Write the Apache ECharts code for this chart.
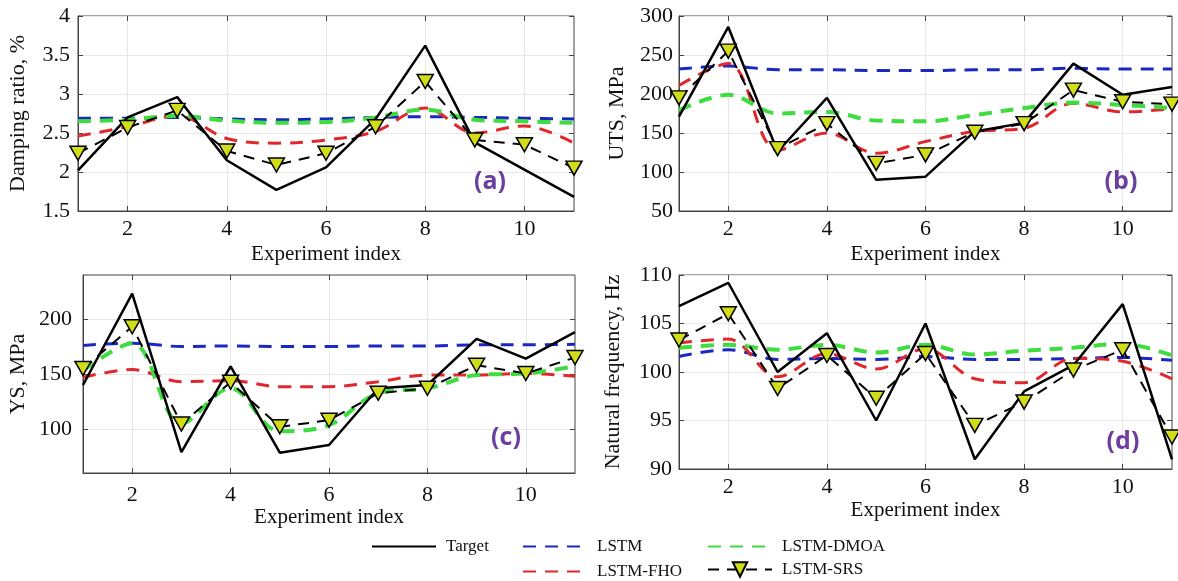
<!DOCTYPE html>
<html>
<head>
<meta charset="utf-8">
<script src="https://cdn.jsdelivr.net/npm/echarts@6/dist/echarts.min.js"></script>
<style>
  html, body { margin: 0; padding: 0; background: #fff; }
  #chart { width: 1178px; height: 581px; }
</style>
</head>
<body>
<div id="chart"></div>
<script>
  // experiment index 1..11
  const experiments = ['1', '2', '3', '4', '5', '6', '7', '8', '9', '10', '11']

  // (a) damping ratio, %
  const dampTarget = [2.02, 2.70, 2.96, 2.15, 1.77, 2.06, 2.68, 3.62, 2.38, 2.03, 1.68]
  const dampLstm = [2.69, 2.69, 2.70, 2.68, 2.67, 2.68, 2.70, 2.71, 2.70, 2.69, 2.68]
  const dampFho = [2.46, 2.58, 2.72, 2.43, 2.37, 2.41, 2.52, 2.82, 2.50, 2.59, 2.37]
  const dampDmoa = [2.65, 2.67, 2.72, 2.66, 2.63, 2.64, 2.70, 2.80, 2.67, 2.65, 2.63]
  const dampSrs = [2.24, 2.57, 2.79, 2.27, 2.09, 2.24, 2.58, 3.16, 2.41, 2.35, 2.05]

  // (b) UTS, MPa
  const utsTarget = [171, 286, 126, 195, 90, 94, 152, 163, 239, 199, 209]
  const utsLstm = [232, 236, 231, 231, 230, 230, 231, 231, 233, 232, 232]
  const utsFho = [211, 239, 128, 150, 124, 139, 152, 156, 188, 177, 181]
  const utsDmoa = [179, 199, 175, 177, 166, 165, 173, 182, 189, 186, 182]
  const utsSrs = [195, 255, 130, 162, 111, 122, 151, 162, 205, 190, 187]

  // (c) YS, MPa
  const ysTarget = [140, 223, 79, 157, 78.5, 85.5, 137, 140, 182, 164, 188]
  const ysLstm = [176, 178, 175, 175.5, 175, 175, 175.5, 175.5, 176.5, 176.5, 177]
  const ysFho = [147, 154, 143, 144, 138.5, 138.5, 143, 149, 149, 150.5, 148]
  const ysDmoa = [153, 178, 105, 137, 98, 103.5, 132.5, 137, 149, 150.5, 157]
  const ysSrs = [155, 193, 104.5, 142.5, 102, 108, 132.5, 137, 158, 150.5, 165]
  const ysTicks = [100, 150, 200]

  // (d) natural frequency, Hz
  const freqTarget = [106.8, 109.2, 100, 104, 95, 105, 91, 98, 100.7, 107, 91]
  const freqLstm = [101.6, 102.3, 101.3, 101.4, 101.3, 101.6, 101.3, 101.3, 101.4, 101.5, 101.2]
  const freqFho = [103.0, 103.4, 99.5, 101.9, 100.3, 102.4, 99.3, 98.9, 101.4, 101.1, 99.3]
  const freqDmoa = [102.5, 102.8, 102.3, 102.8, 102.0, 102.8, 101.8, 102.2, 102.5, 102.9, 101.7]
  const freqSrs = [103.3, 106.0, 98.3, 101.7, 97.3, 101.9, 94.5, 96.9, 100.2, 102.3, 93.3]

  const serif = '"Liberation Serif", "Times New Roman", serif'
  const dash = [13, 9]

  const styles = {
    'LSTM': { color: '#1a28c0', width: 3, type: dash, smooth: 0.35 },
    'LSTM-FHO': { color: '#e0282c', width: 3, type: dash, smooth: 0.35 },
    'LSTM-DMOA': { color: '#3fdc3f', width: 4, type: dash, smooth: 0.35 },
    'Target': { color: '#000', width: 2.5, type: 'solid', smooth: false },
    'LSTM-SRS': { color: '#000', width: 2, type: [11, 8], smooth: false },
  }

  const panels = [
    { target: dampTarget, lstm: dampLstm, fho: dampFho, dmoa: dampDmoa, srs: dampSrs },
    { target: utsTarget, lstm: utsLstm, fho: utsFho, dmoa: utsDmoa, srs: utsSrs },
    { target: ysTarget, lstm: ysLstm, fho: ysFho, dmoa: ysDmoa, srs: ysSrs },
    { target: freqTarget, lstm: freqLstm, fho: freqFho, dmoa: freqDmoa, srs: freqSrs },
  ]

  const grids = [
    { left: 78, top: 16, width: 496, height: 195 },
    { left: 679, top: 16, width: 493, height: 195 },
    { left: 83, top: 275, width: 492, height: 198 },
    { left: 679, top: 275, width: 493, height: 194 },
  ]

  const everyOther = (i) => i % 2 === 1
  const tickStyle = { inside: true, length: 5, lineStyle: { color: '#444' } }

  // bottom axes with labels
  const xAxes = grids.map((g, i) => ({
    type: 'category',
    gridIndex: i,
    data: experiments,
    boundaryGap: false,
    name: 'Experiment index',
    nameLocation: 'middle',
    nameGap: i < 2 ? 33 : 31,
    nameTextStyle: { fontFamily: serif, fontSize: 21, color: '#111' },
    axisLine: { lineStyle: { color: '#444', width: 1 } },
    axisTick: { ...tickStyle, interval: everyOther },
    axisLabel: { interval: everyOther, fontFamily: serif, fontSize: 22, color: '#111', margin: i === 2 ? 11 : 7 },
    splitLine: { show: true, interval: everyOther, lineStyle: { color: '#e8e8e8' } },
  }))
  // top axes: only the inward ticks of the box
  grids.forEach((g, i) => {
    xAxes.push({
      type: 'category',
      gridIndex: i,
      position: 'top',
      data: experiments,
      boundaryGap: false,
      axisLine: { show: false },
      axisTick: { ...tickStyle, interval: everyOther },
      axisLabel: { show: false },
      splitLine: { show: false },
    })
  })

  const yBase = (i) => ({
    type: 'value',
    gridIndex: i,
    nameLocation: 'middle',
    nameTextStyle: { fontFamily: serif, fontSize: 22, color: '#111' },
    axisLine: { show: true, lineStyle: { color: '#444', width: 1 } },
    axisTick: { show: true, ...tickStyle },
    axisLabel: { fontFamily: serif, fontSize: 22, color: '#111', margin: 8 },
    splitLine: { show: true, lineStyle: { color: '#e8e8e8' } },
  })

  const yAxes = [
    { ...yBase(0), min: 1.5, max: 4, interval: 0.5, name: 'Damping ratio, %', nameGap: 49 },
    { ...yBase(1), min: 50, max: 300, interval: 50, name: 'UTS, MPa', nameGap: 51,
      axisLabel: { ...yBase(1).axisLabel, margin: 6 } },
    { ...yBase(2), min: 60, max: 240, name: 'YS, MPa', nameGap: 54,
      axisLabel: { ...yBase(2).axisLabel, margin: 11, customValues: ysTicks },
      axisTick: { ...yBase(2).axisTick, customValues: ysTicks },
      splitLine: { show: true, customValues: ysTicks, lineStyle: { color: '#e8e8e8' } } },
    { ...yBase(3), min: 90, max: 110, interval: 5, name: 'Natural frequency, Hz', nameGap: 55,
      axisLabel: { ...yBase(3).axisLabel, margin: 7 } },
  ]
  // right axes: only the inward ticks of the box
  yAxes.slice().forEach((y, i) => {
    yAxes.push({
      type: 'value',
      gridIndex: i,
      position: 'right',
      min: y.min,
      max: y.max,
      interval: y.interval,
      axisLine: { show: false },
      axisTick: { show: true, ...tickStyle, customValues: i === 2 ? ysTicks : undefined },
      axisLabel: { show: false, customValues: i === 2 ? ysTicks : undefined },
      splitLine: { show: false },
    })
  })

  const series = []
  panels.forEach((p, i) => {
    const rows = [
      ['LSTM', p.lstm],
      ['LSTM-FHO', p.fho],
      ['LSTM-DMOA', p.dmoa],
      ['Target', p.target],
      ['LSTM-SRS', p.srs],
    ]
    rows.forEach(([name, data]) => {
      const s = styles[name]
      const isSrs = name === 'LSTM-SRS'
      series.push({
        name,
        type: 'line',
        xAxisIndex: i,
        yAxisIndex: i,
        data,
        smooth: s.smooth,
        symbol: isSrs ? 'triangle' : 'none',
        symbolRotate: 180,
        symbolSize: [16, 14],
        showSymbol: isSrs,
        itemStyle: isSrs
          ? { color: '#d2dd1a', borderColor: '#000', borderWidth: 1.5 }
          : { color: s.color },
        lineStyle: { color: s.color, width: s.width, type: s.type },
        emphasis: { disabled: true },
      })
    })
  })

  const legendBase = {
    orient: 'horizontal',
    itemWidth: 64,
    itemHeight: 14,
    textStyle: { fontFamily: serif, fontSize: 17, color: '#111', padding: [0, 0, 0, 5] },
    selectedMode: false,
  }
  const noMarker = (name) => ({ name, itemStyle: { opacity: 0 } })

  const legends = [
    { ...legendBase, data: [noMarker('Target')], left: 366, top: 533 },
    { ...legendBase, data: [noMarker('LSTM')], left: 517, top: 533 },
    { ...legendBase, data: [noMarker('LSTM-DMOA')], left: 702, top: 533 },
    { ...legendBase, data: [noMarker('LSTM-FHO')], left: 517, top: 558 },
    { ...legendBase, data: ['LSTM-SRS'], left: 702, top: 556, itemHeight: 18 },
  ]

  const tagStyle = { fill: '#6b3fa0', fontFamily: '"Open Sans", Lato, sans-serif', fontSize: 25, fontWeight: 'bold' }
  const tags = [
    ['(a)', 490, 182],
    ['(b)', 1121, 182],
    ['(c)', 506, 438],
    ['(d)', 1123, 442],
  ]

  const chart = echarts.init(document.getElementById('chart'))
  chart.setOption({
    animation: false,
    backgroundColor: '#fff',
    grid: grids.map((g) => ({ ...g, show: true, borderColor: '#444', borderWidth: 1, backgroundColor: '#fff' })),
    xAxis: xAxes,
    yAxis: yAxes,
    legend: legends,
    series,
    graphic: tags.map(([text, x, y]) => ({
      type: 'text',
      x,
      y,
      z: 100,
      style: { ...tagStyle, text, textAlign: 'center', textVerticalAlign: 'middle' },
    })),
  })
</script>
</body>
</html>
